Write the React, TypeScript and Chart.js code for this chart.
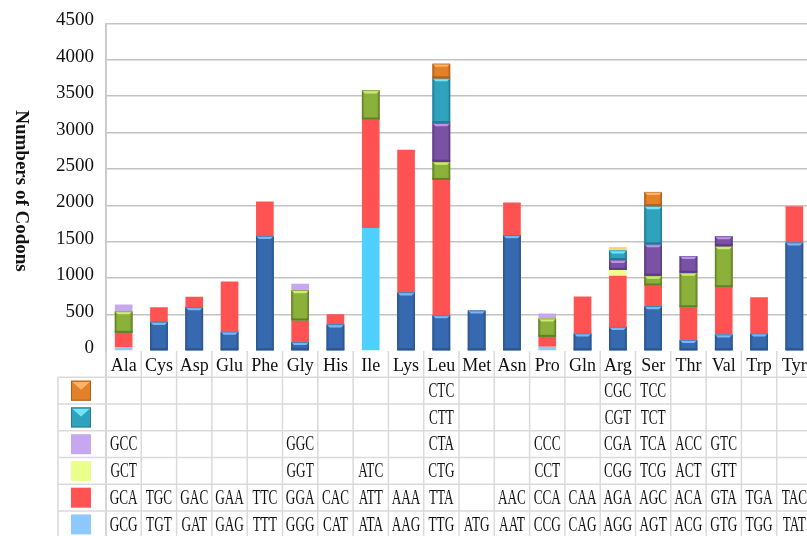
import React, { useEffect, useRef } from 'react';
import { Chart, registerables } from 'chart.js';

Chart.register(...registerables);

// ---------------- data ----------------
const categories = ['Ala', 'Cys', 'Asp', 'Glu', 'Phe', 'Gly', 'His', 'Ile', 'Lys', 'Leu', 'Met', 'Asn', 'Pro', 'Gln', 'Arg', 'Ser', 'Thr', 'Val', 'Trp', 'Tyr'];

// series stacked bottom -> top
const series1 = [50, 400, 600, 265, 1580, 120, 365, 1690, 805, 490, 555, 1590, 60, 240, 330, 615, 150, 225, 240, 1490];
const series2 = [200, 200, 145, 690, 475, 300, 140, 1490, 1960, 1860, null, 450, 135, 510, 705, 285, 450, 650, 500, 500];
const series3 = [295, null, null, null, null, 415, null, 400, null, 250, null, null, 250, null, 80, 135, 475, 565, null, null];
const series4 = [95, null, null, null, null, 90, null, null, null, 530, null, null, 70, null, 135, 430, 230, 135, null, null];
const series5 = [null, null, null, null, null, null, null, null, null, 615, null, null, null, null, 130, 525, null, null, null, null];
const series6 = [null, null, null, null, null, null, null, null, null, 200, null, null, null, null, 50, 195, null, null, null, null];

// codon labels of the data table (one list per series)
const codons1 = ['GCG', 'TGT', 'GAT', 'GAG', 'TTT', 'GGG', 'CAT', 'ATA', 'AAG', 'TTG', 'ATG', 'AAT', 'CCG', 'CAG', 'AGG', 'AGT', 'ACG', 'GTG', 'TGG', 'TAT'];
const codons2 = ['GCA', 'TGC', 'GAC', 'GAA', 'TTC', 'GGA', 'CAC', 'ATT', 'AAA', 'TTA', '', 'AAC', 'CCA', 'CAA', 'AGA', 'AGC', 'ACA', 'GTA', 'TGA', 'TAC'];
const codons3 = ['GCT', '', '', '', '', 'GGT', '', 'ATC', '', 'CTG', '', '', 'CCT', '', 'CGG', 'TCG', 'ACT', 'GTT', '', ''];
const codons4 = ['GCC', '', '', '', '', 'GGC', '', '', '', 'CTA', '', '', 'CCC', '', 'CGA', 'TCA', 'ACC', 'GTC', '', ''];
const codons5 = ['', '', '', '', '', '', '', '', '', 'CTT', '', '', '', '', 'CGT', 'TCT', '', '', '', ''];
const codons6 = ['', '', '', '', '', '', '', '', '', 'CTC', '', '', '', '', 'CGC', 'TCC', '', '', '', ''];

const yMin = 0;
const yMax = 4500;
const yStep = 500;
const yTitle = 'Numbers of Codons';

// ---------------- styles ----------------
const FLAT: Record<string, string> = {
  lightBlue: '#8DC9FF',
  cyan: '#4FD0FF',
  red: '#FF5252',
  lightYellow: '#EBFF8D',
  lightPurple: '#C7A7F0',
  lightOrange: '#FFD479',
};
const BEVEL: Record<string, { base: string; dark: string; light: string }> = {
  blue: { base: '#3669AF', dark: '#2A5690', light: '#79B6F0' },
  green: { base: '#8BB13B', dark: '#647F28', light: '#CDEB7C' },
  purple: { base: '#7A52A5', dark: '#5C3C84', light: '#B896E6' },
  teal: { base: '#2FA2BE', dark: '#237C94', light: '#72E6F8' },
  orange: { base: '#E3802A', dark: '#B0601C', light: '#F9B466' },
};
const seriesStyle = [
  { def: 'blue', over: { Ala: 'lightBlue', Pro: 'lightBlue', Ile: 'cyan' } as Record<string, string> },
  { def: 'red', over: {} as Record<string, string> },
  { def: 'green', over: { Arg: 'lightYellow' } as Record<string, string> },
  { def: 'purple', over: { Ala: 'lightPurple', Gly: 'lightPurple', Pro: 'lightPurple' } as Record<string, string> },
  { def: 'teal', over: {} as Record<string, string> },
  { def: 'orange', over: { Arg: 'lightOrange' } as Record<string, string> },
];
const legendSwatch = ['orange', 'teal', 'lightPurple', 'lightYellow', 'red', 'lightBlue'];

const FONT = "'Liberation Serif', 'Times New Roman', serif";

function styleKey(s: number, i: number) {
  const st = seriesStyle[s];
  return st.over[categories[i]] || st.def;
}
function baseColor(key: string) {
  return BEVEL[key] ? BEVEL[key].base : FLAT[key];
}

function drawBevel(ctx: CanvasRenderingContext2D, l: number, t: number, r: number, b: number, c: { base: string; dark: string; light: string }) {
  const w = r - l;
  const h = b - t;
  if (h <= 0) return;
  const g = ctx.createLinearGradient(l, 0, r, 0);
  g.addColorStop(0, c.dark);
  g.addColorStop(0.16, c.base);
  g.addColorStop(0.84, c.base);
  g.addColorStop(1, c.dark);
  ctx.fillStyle = g;
  ctx.fillRect(l, t, w, h);
  const bw = Math.min(2, h / 4);
  ctx.fillStyle = c.dark;
  ctx.fillRect(l, b - bw, w, bw);
  const hh = Math.min(3, h / 3);
  ctx.beginPath();
  ctx.moveTo(l, t);
  ctx.lineTo(r, t);
  ctx.lineTo(r - hh, t + hh);
  ctx.lineTo(l + hh, t + hh);
  ctx.closePath();
  ctx.fillStyle = c.light;
  ctx.fill();
  ctx.globalAlpha = 0.6;
  ctx.strokeStyle = c.dark;
  ctx.lineWidth = 0.8;
  ctx.strokeRect(l + 0.4, t + 0.4, w - 0.8, h - 0.8);
  ctx.globalAlpha = 1;
}

const bevelPlugin = {
  id: 'bevel',
  afterDatasetsDraw(chart: any) {
    const ctx: CanvasRenderingContext2D = chart.ctx;
    ctx.save();
    chart.data.datasets.forEach((_ds: any, s: number) => {
      const meta = chart.getDatasetMeta(s);
      meta.data.forEach((el: any, i: number) => {
        const key = styleKey(s, i);
        const c = BEVEL[key];
        if (!c) return;
        const raw = chart.data.datasets[s].data[i];
        if (raw == null) return;
        const p = el.getProps(['x', 'y', 'base', 'width'], true);
        const l = p.x - p.width / 2;
        const r = p.x + p.width / 2;
        const t = Math.min(p.y, p.base);
        const b = Math.max(p.y, p.base);
        drawBevel(ctx, l, t, r, b, c);
      });
    });
    ctx.restore();
  },
};

const tablePlugin = {
  id: 'codonTable',
  afterDraw(chart: any) {
    const ctx: CanvasRenderingContext2D = chart.ctx;
    const area = chart.chartArea;
    const H = chart.height;
    const W = chart.width;
    const n = categories.length;
    const colW = (area.right - area.left) / n;
    const headerH = 26.3;
    const rowH = 26.75;
    const tableTop = area.bottom + headerH;
    const tableLeft = 58;
    const rows = [codons6, codons5, codons4, codons3, codons2, codons1];

    ctx.save();
    ctx.lineWidth = 1.5;
    // vertical lines
    for (let i = 0; i <= n; i++) {
      const x = area.left + i * colW;
      ctx.beginPath();
      ctx.moveTo(x, i === 0 ? area.top : area.bottom);
      ctx.lineTo(x, H);
      ctx.strokeStyle = i === 0 ? '#C8C8C8' : '#DADADA';
      ctx.stroke();
    }
    ctx.strokeStyle = '#DADADA';
    ctx.beginPath();
    ctx.moveTo(tableLeft, tableTop);
    ctx.lineTo(tableLeft, H);
    ctx.stroke();
    for (let r = 0; r < rows.length; r++) {
      const y = tableTop + r * rowH;
      ctx.beginPath();
      ctx.moveTo(tableLeft, y);
      ctx.lineTo(W, y);
      ctx.stroke();
    }

    // legend swatches
    const sw = 20;
    const sx = 71;
    for (let r = 0; r < rows.length; r++) {
      const cy = tableTop + r * rowH + rowH / 2;
      const t = cy - sw / 2;
      const key = legendSwatch[r];
      const c = BEVEL[key];
      if (c) {
        ctx.fillStyle = c.base;
        ctx.fillRect(sx, t, sw, sw);
        ctx.beginPath();
        ctx.moveTo(sx + 1, t + 1);
        ctx.lineTo(sx + sw - 1, t + 1);
        ctx.lineTo(sx + sw / 2, t + sw * 0.45);
        ctx.closePath();
        ctx.fillStyle = c.light;
        ctx.fill();
        ctx.strokeStyle = c.dark;
        ctx.lineWidth = 1;
        ctx.strokeRect(sx + 0.5, t + 0.5, sw - 1, sw - 1);
      } else {
        ctx.fillStyle = FLAT[key];
        ctx.fillRect(sx, t, sw, sw);
      }
    }

    // codon text
    ctx.fillStyle = '#111';
    ctx.font = `20px ${FONT}`;
    ctx.textAlign = 'center';
    ctx.textBaseline = 'middle';
    for (let r = 0; r < rows.length; r++) {
      const cy = tableTop + r * rowH + rowH / 2 + 1;
      for (let i = 0; i < n; i++) {
        const txt = rows[r][i];
        if (!txt) continue;
        const cx = area.left + (i + 0.5) * colW;
        ctx.save();
        ctx.translate(cx, cy);
        ctx.scale(0.66, 1);
        ctx.fillText(txt, 0, 0);
        ctx.restore();
      }
    }

    // y axis title (reads top to bottom)
    ctx.save();
    ctx.translate(21, 191);
    ctx.rotate(Math.PI / 2);
    ctx.font = `bold 19px ${FONT}`;
    ctx.fillStyle = '#111';
    ctx.textAlign = 'center';
    ctx.textBaseline = 'middle';
    ctx.fillText(yTitle, 0, 0);
    ctx.restore();

    ctx.restore();
  },
};

export default function App() {
  const ref = useRef<HTMLCanvasElement | null>(null);

  useEffect(() => {
    if (!ref.current) return;
    const all = [series1, series2, series3, series4, series5, series6];
    const chart = new Chart(ref.current, {
      type: 'bar',
      data: {
        labels: categories,
        datasets: all.map((d, s) => ({
          label: `S${s + 1}`,
          data: d,
          backgroundColor: categories.map((_c, i) => baseColor(styleKey(s, i))),
          borderWidth: 0,
          barPercentage: 0.5,
          categoryPercentage: 1,
        })),
      },
      options: {
        animation: false,
        responsive: false,
        maintainAspectRatio: false,
        layout: { padding: { top: 20, left: 0, right: 0, bottom: 0 } },
        plugins: { legend: { display: false }, tooltip: { enabled: false } },
        scales: {
          x: {
            stacked: true,
            grid: { display: false, drawTicks: false },
            border: { display: false },
            ticks: {
              font: { family: FONT, size: 18 },
              color: '#111',
              padding: 4,
              maxRotation: 0,
              autoSkip: false,
            },
            afterFit: (s: any) => {
              s.height = 185;
            },
          },
          y: {
            stacked: true,
            min: yMin,
            max: yMax,
            ticks: {
              stepSize: yStep,
              font: { family: FONT, size: 19 },
              color: '#111',
              padding: 12,
              labelOffset: -3,
              callback: (v: any) => String(v),
            },
            grid: {
              color: (c: any) => (c.tick && c.tick.value === 0 ? 'rgba(0,0,0,0)' : '#C3C3C3'),
              lineWidth: 1.5,
              drawTicks: false,
            },
            border: { display: true, color: '#C8C8C8', width: 1.5 },
            afterFit: (s: any) => {
              s.width = 106;
            },
          },
        },
      } as any,
      plugins: [bevelPlugin, tablePlugin],
    });
    return () => chart.destroy();
  }, []);

  return (
    <div style={{ position: 'absolute', left: 0, top: 0, width: 807, height: 536, overflow: 'hidden', background: '#fff' }}>
      <canvas ref={ref} width={812} height={536} style={{ display: 'block', width: 812, height: 536 }} />
    </div>
  );
}
